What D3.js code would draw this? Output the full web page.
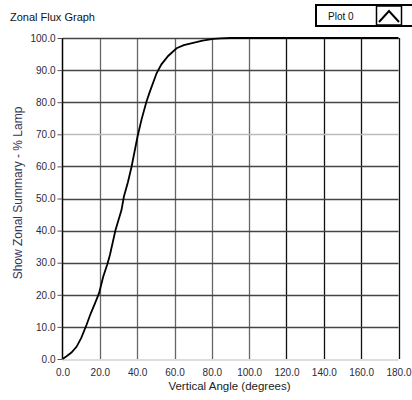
<!DOCTYPE html>
<html><head><meta charset="utf-8">
<script src="https://cdn.jsdelivr.net/npm/d3@7"></script>
<style>
html,body{margin:0;padding:0;background:#fff;}
svg{display:block;font-family:"Liberation Sans",Arial,sans-serif;}
</style></head>
<body><svg id="c" width="412" height="400"></svg>
<script>
const angle = [0, 2, 4.8, 7.5, 10, 12.85, 15, 17.5, 19.6, 21.8, 24, 25.4, 28.4, 31.6, 32.9, 35, 37, 40.2, 42.3, 45, 46.8, 50.4, 53, 56.6, 61.1, 65, 70, 75, 80.8, 85, 90, 100, 120, 140, 160, 180];
const flux  = [0, 0.8, 2.0, 3.8, 6.5, 10.6, 14, 17.5, 20.5, 25.6, 29.5, 32.4, 40.2, 46.4, 50.6, 55, 59.9, 69.3, 74.5, 80.2, 83.3, 89.0, 91.8, 94.4, 96.8, 97.8, 98.5, 99.2, 99.7, 99.9, 100, 100, 100, 100, 100, 100];
const xTicks = [0, 20, 40, 60, 80, 100, 120, 140, 160, 180];
const xTickLabels = ["0.0","20.0","40.0","60.0","80.0","100.0","120.0","140.0","160.0","180.0"];
const yTicks = [0, 10, 20, 30, 40, 50, 60, 70, 80, 90, 100];
const yTickLabels = ["0.0","10.0","20.0","30.0","40.0","50.0","60.0","70.0","80.0","90.0","100.0"];
const title = "Zonal Flux Graph";
const legendLabel = "Plot 0";
const xTitle = "Vertical Angle (degrees)";
const yTitle = "Show Zonal Summary - % Lamp";

const svg = d3.select("#c");
const x = d3.scaleLinear().domain([0,180]).range([62.5,398.5]);
const y = d3.scaleLinear().domain([0,100]).range([359,38]);

// grid
const g = svg.append("g");
g.selectAll("line.v").data(xTicks.slice(1)).join("line")
  .attr("x1",d=>Math.round(x(d))+0.5).attr("x2",d=>Math.round(x(d))+0.5)
  .attr("y1",y(100)).attr("y2",y(0))
  .attr("stroke",(d,i)=> d>=120 ? "#111" : "#666").attr("stroke-width",1.3);
g.selectAll("line.h").data(yTicks.slice(1)).join("line")
  .attr("x1",x(0)).attr("x2",x(180))
  .attr("y1",d=>Math.round(y(d))+0.5).attr("y2",d=>Math.round(y(d))+0.5)
  .attr("stroke",d=> d===70 ? "#bbb" : "#444").attr("stroke-width",1.3);
// bottom baseline light
g.append("line").attr("x1",x(0)).attr("x2",x(180)).attr("y1",y(0)+1).attr("y2",y(0)+1)
  .attr("stroke","#ddd").attr("stroke-width",2);

// y axis
const yAxis = d3.axisLeft(y).tickValues(yTicks).tickFormat((d,i)=>yTickLabels[i]).tickSize(5).tickPadding(2);
const ya = svg.append("g").attr("transform",`translate(${x(0)},0)`).call(yAxis);
ya.select(".domain").attr("stroke","#000").attr("stroke-width",1.5).attr("d",`M0,${y(0)}V${y(100)}`);
ya.selectAll(".tick line").attr("stroke","#555");
ya.selectAll("text").attr("font-size",10).attr("fill","#2b2b3a").attr("font-family","Liberation Sans, Arial, sans-serif");

// x axis labels (no tick marks)
const xAxis = d3.axisBottom(x).tickValues(xTicks).tickFormat((d,i)=>xTickLabels[i]).tickSize(0).tickPadding(10);
const xa = svg.append("g").attr("transform",`translate(0,${y(0)})`).call(xAxis);
xa.select(".domain").remove();
xa.selectAll("text").attr("font-size",10).attr("fill","#2b2b3a").attr("font-family","Liberation Sans, Arial, sans-serif");

// data line
const line = d3.line().x((d,i)=>x(angle[i])).y((d,i)=>y(flux[i]));
svg.append("path").datum(flux).attr("d",line).attr("fill","none").attr("stroke","#000").attr("stroke-width",1.8);

// titles
svg.append("text").attr("x",10).attr("y",21).attr("font-size",11).attr("fill","#111").text(title);
svg.append("text").attr("x",x(90)-1).attr("y",390).attr("text-anchor","middle").attr("font-size",11.5).attr("fill","#222").text(xTitle);
svg.append("text").attr("transform",`translate(22,${193}) rotate(-90)`).attr("text-anchor","middle")
  .attr("font-size",12).attr("fill","#35355a").text(yTitle);

// legend
const lg = svg.append("g");
lg.append("rect").attr("x",316).attr("y",5).attr("width",110).attr("height",21).attr("fill","#fff").attr("stroke","#000").attr("stroke-width",2);
lg.append("text").attr("x",328).attr("y",19.5).attr("font-size",10).attr("fill","#111").text(legendLabel);
lg.append("rect").attr("x",376.5).attr("y",6).attr("width",25).attr("height",19).attr("fill","#fff").attr("stroke","#000").attr("stroke-width",1.5);
lg.append("path").attr("d","M379,22 L389,11 L399,22").attr("fill","none").attr("stroke","#000").attr("stroke-width",2);
</script></body></html>
